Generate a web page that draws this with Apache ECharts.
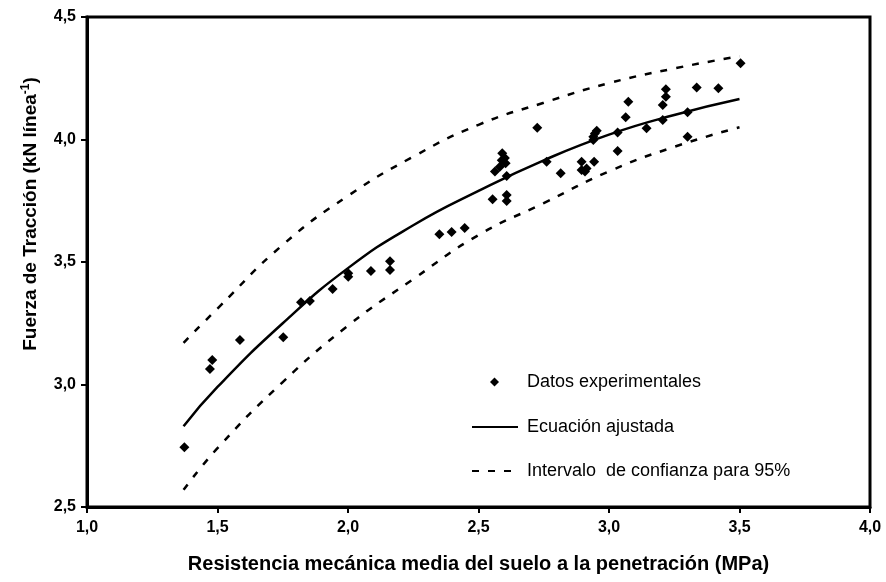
<!DOCTYPE html>
<html>
<head>
<meta charset="utf-8">
<script src="https://cdn.jsdelivr.net/npm/echarts@6/dist/echarts.min.js"></script>
<style>html,body{margin:0;padding:0;background:#fff}#c{width:886px;height:582px}</style>
</head>
<body>
<div id="c"></div>
<script>
var dataX = [1.373,1.471,1.480,1.586,1.752,1.820,1.854,1.941,2.001,2.001,2.088,2.161,2.161,2.350,2.397,2.447,
  2.554,2.563,2.582,2.591,2.604,2.608,2.608,2.608,2.589,2.601,2.725,2.761,2.815,2.895,2.895,2.908,2.914,2.943,
  2.940,2.940,2.946,2.953,3.033,3.033,3.064,3.074,3.144,3.206,3.206,3.218,3.218,3.301,3.301,3.336,3.419,3.504];
var dataY = [2.744,3.063,3.100,3.182,3.193,3.336,3.341,3.390,3.454,3.440,3.463,3.503,3.467,3.613,3.622,3.639,
  3.756,3.869,3.889,3.944,3.903,3.851,3.773,3.749,3.915,3.925,4.048,3.909,3.862,3.909,3.876,3.869,3.882,3.909,
  3.998,4.011,4.025,4.036,4.029,3.953,4.091,4.154,4.046,4.141,4.080,4.205,4.175,4.111,4.011,4.212,4.209,4.311];
// Fitted equation and 95% confidence band
var curveX = [1.37,1.5,1.75,2.0,2.25,2.5,2.75,3.0,3.25,3.5];
var fitY   = [2.83,2.99,3.25,3.475,3.65,3.79,3.915,4.02,4.10,4.165];
var upperY = [3.17,3.31,3.57,3.77,3.93,4.06,4.15,4.23,4.29,4.34];
var lowerY = [2.57,2.74,3.01,3.24,3.43,3.61,3.74,3.87,3.97,4.05];
var xTicks = ['1,0','1,5','2,0','2,5','3,0','3,5','4,0'];
var yTicks = ['2,5','3,0','3,5','4,0','4,5'];
var names = ['Datos experimentales','Ecuación ajustada','Intervalo  de confianza para 95%'];

function pairs(xs, ys){ return xs.map(function(x,i){ return [x, ys[i]]; }); }
function fmt(v){ return v.toFixed(1).replace('.', ','); }

var chart = echarts.init(document.getElementById('c'), null, {renderer:'canvas'});
var F = 'Liberation Sans, Arial, sans-serif';
var LF = 18;
chart.setOption({
  animation:false,
  backgroundColor:'#fff',
  grid:{left:87, right:16, top:17, bottom:75, outerBoundsMode:'none', containLabel:false,
    show:true, borderColor:'#000', borderWidth:3, backgroundColor:'transparent'},
  xAxis:{type:'value', min:1, max:4, interval:0.5,
    axisLine:{show:true, onZero:false, lineStyle:{color:'#000', width:3}},
    axisTick:{show:true, length:6, lineStyle:{color:'#000', width:2}},
    splitLine:{show:false},
    axisLabel:{color:'#000', fontFamily:F, fontWeight:'bold', fontSize:16, margin:13, formatter:function(v){return fmt(v);}},
    name:'Resistencia mecánica media del suelo a la penetración (MPa)', nameLocation:'middle', nameGap:47,
    nameTextStyle:{color:'#000', fontFamily:F, fontWeight:'bold', fontSize:20}
  },
  yAxis:{type:'value', min:2.5, max:4.5, interval:0.5,
    axisLine:{show:true, onZero:false, lineStyle:{color:'#000', width:3}},
    axisTick:{show:true, length:6, lineStyle:{color:'#000', width:2}},
    splitLine:{show:false},
    axisLabel:{color:'#000', fontFamily:F, fontWeight:'bold', fontSize:16, margin:11, formatter:function(v){return fmt(v);}},
    name:'Fuerza de Tracción (kN línea{sup|-1})', nameLocation:'middle', nameGap:45, nameRotate:90,
    nameTextStyle:{color:'#000', fontFamily:F, fontWeight:'bold', fontSize:19, padding:[0,0,0,96],
      rich:{sup:{fontFamily:F, fontWeight:'bold', fontSize:12, verticalAlign:'top', color:'#000', padding:[0,0,10,0]}}}
  },
  legend:[
    {orient:'vertical', left:485, top:368, itemWidth:9, itemHeight:9,
      itemStyle:{opacity:1},
      textStyle:{color:'#000', fontFamily:F, fontSize:LF, padding:[0,0,0,23]},
      data:[{name:names[0], icon:'diamond'}]
    },
    {orient:'vertical', left:466, top:413, itemWidth:46, itemHeight:10, itemGap:26,
      itemStyle:{opacity:0, color:'transparent', borderWidth:0},
      textStyle:{color:'#000', fontFamily:F, fontSize:LF, padding:[0,0,0,4]},
      data:[{name:names[1]}, {name:names[2]}]
    }
  ],
  series:[
    {name:names[0], type:'scatter', symbol:'diamond', symbolSize:10, itemStyle:{color:'#000', opacity:1}, data:pairs(dataX,dataY), z:5},
    {name:names[1], type:'line', smooth:true, symbol:'none', lineStyle:{color:'#000', width:2.5}, itemStyle:{color:'#000'}, data:pairs(curveX,fitY)},
    {name:names[2], type:'line', smooth:true, symbol:'none', lineStyle:{color:'#000', width:2.5, type:[7,9]}, itemStyle:{color:'#000'}, data:pairs(curveX,upperY)},
    {name:names[2], type:'line', smooth:true, symbol:'none', lineStyle:{color:'#000', width:2.5, type:[7,9]}, itemStyle:{color:'#000'}, data:pairs(curveX,lowerY)}
  ]
});
</script>
</body>
</html>
